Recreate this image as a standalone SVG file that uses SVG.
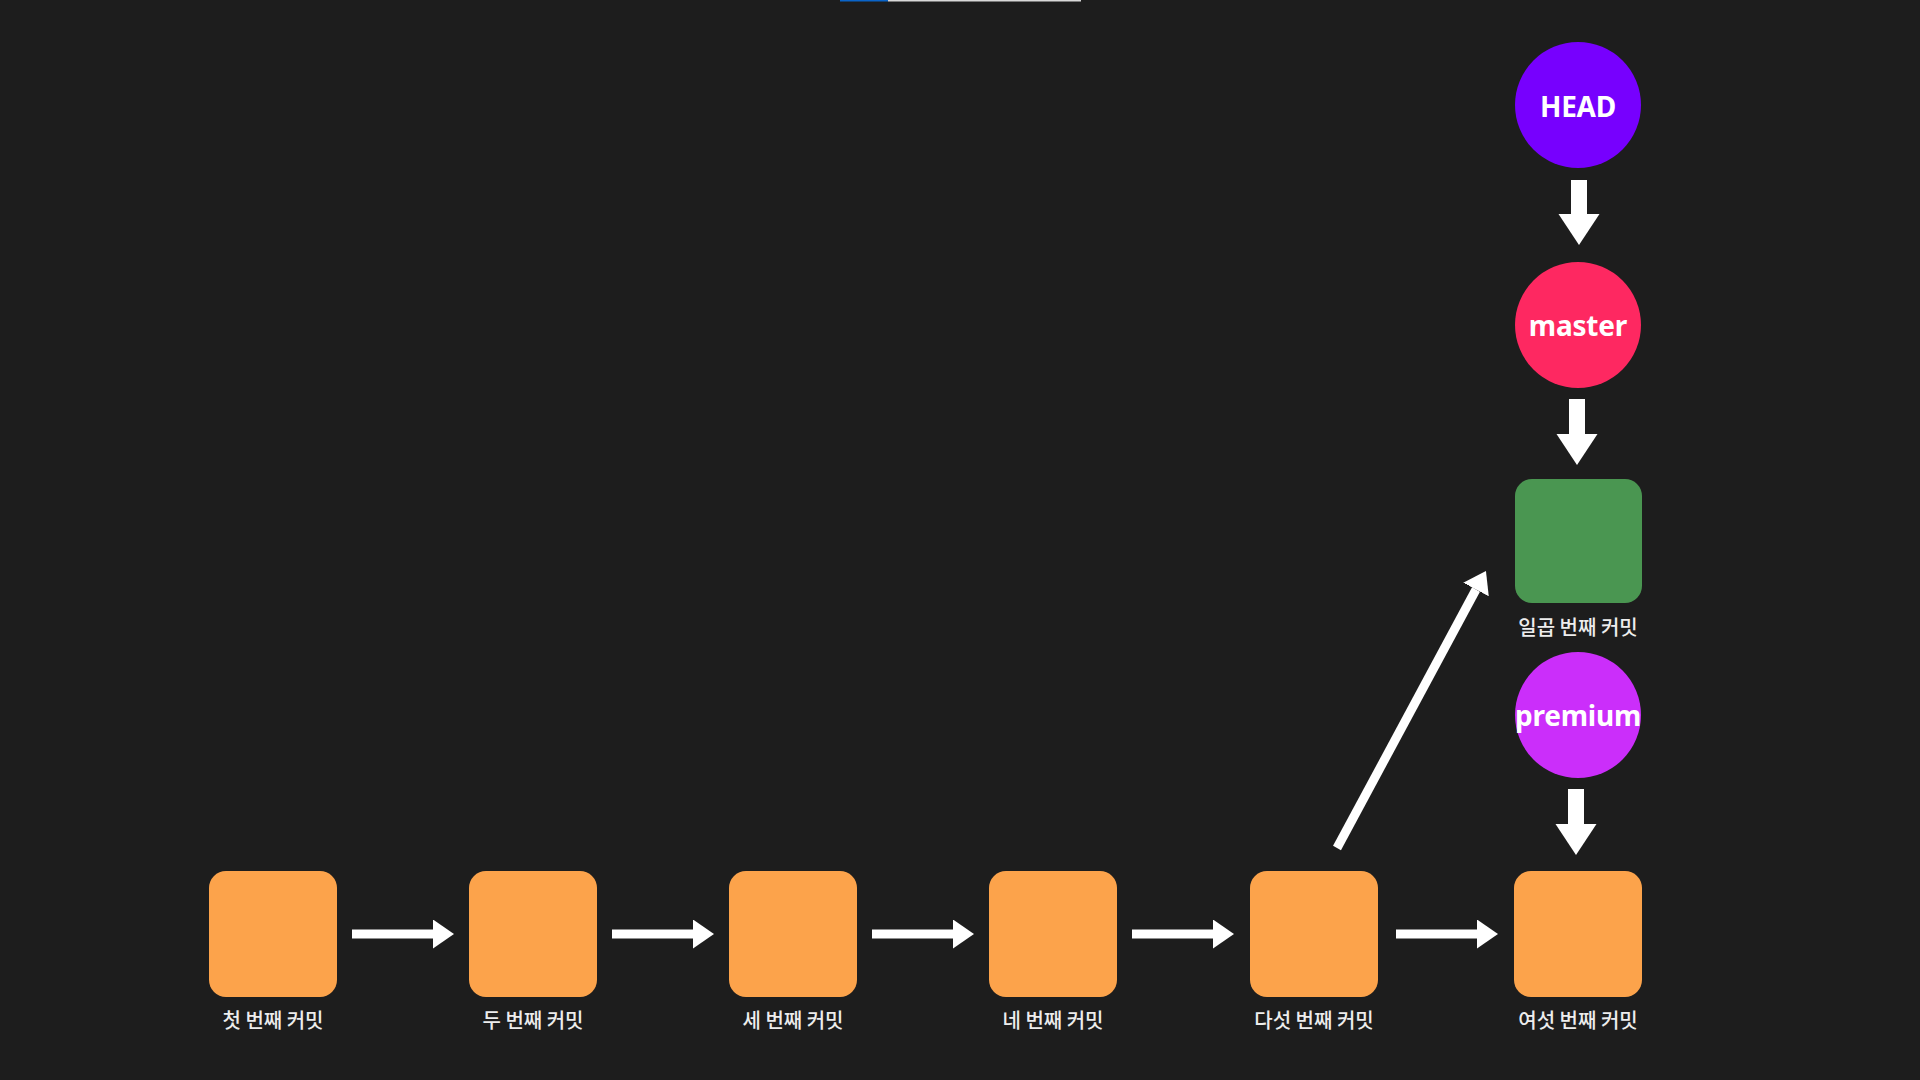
<svg xmlns="http://www.w3.org/2000/svg" width="1920" height="1080" viewBox="0 0 1920 1080">
<style>
.commit{fill:#FCA34B}
.new{fill:#4A9651}
.lbl{font-family:"Noto Sans CJK KR","Noto Sans",sans-serif;font-size:20px;font-weight:500;fill:#EDEDED;text-anchor:middle}
.ref{font-family:"Noto Sans","Open Sans",sans-serif;font-size:28px;font-weight:700;fill:#FFFFFF;text-anchor:middle;letter-spacing:-0.2px}
.thin{stroke:#FFFFFF;stroke-width:9;fill:none;marker-end:url(#headThin)}
.thick{stroke:#FFFFFF;stroke-width:16;fill:none;marker-end:url(#headThick)}
</style>
<defs>
<marker id="headThin" markerUnits="userSpaceOnUse" markerWidth="22" markerHeight="30" refX="0" refY="14.5" orient="auto" viewBox="0 0 22 30">
<path d="M0,0 L21,14.5 L0,29 Z" fill="#FFFFFF"/>
</marker>
<marker id="headThick" markerUnits="userSpaceOnUse" markerWidth="32" markerHeight="42" refX="0" refY="20.5" orient="auto" viewBox="0 0 32 42">
<path d="M0,0 L31,20.5 L0,41 Z" fill="#FFFFFF"/>
</marker>
</defs>
<rect x="0" y="0" width="1920" height="1080" fill="#1D1D1D"/>
<rect x="840" y="0" width="48" height="1.5" fill="#0A64C8"/>
<rect x="888" y="0" width="193" height="1.5" fill="#D8D8D8"/>

<g id="connectors">
<line class="thin" x1="352" y1="934" x2="433" y2="934"/>
<line class="thin" x1="612" y1="934" x2="693" y2="934"/>
<line class="thin" x1="872" y1="934" x2="953" y2="934"/>
<line class="thin" x1="1132" y1="934" x2="1213" y2="934"/>
<line class="thin" x1="1396" y1="934" x2="1477" y2="934"/>
<line class="thin" x1="1337" y1="848" x2="1476" y2="589.5"/>
<line class="thick" x1="1579" y1="180" x2="1579" y2="214"/>
<line class="thick" x1="1577" y1="399" x2="1577" y2="434"/>
<line class="thick" x1="1576" y1="789" x2="1576" y2="824"/>
</g>

<g id="commit1"><rect class="commit" x="209" y="871" width="128" height="126" rx="17"/><text class="lbl" x="273" y="1028">첫 번째 커밋</text></g>
<g id="commit2"><rect class="commit" x="469" y="871" width="128" height="126" rx="17"/><text class="lbl" x="533" y="1028">두 번째 커밋</text></g>
<g id="commit3"><rect class="commit" x="729" y="871" width="128" height="126" rx="17"/><text class="lbl" x="793" y="1028">세 번째 커밋</text></g>
<g id="commit4"><rect class="commit" x="989" y="871" width="128" height="126" rx="17"/><text class="lbl" x="1053" y="1028">네 번째 커밋</text></g>
<g id="commit5"><rect class="commit" x="1250" y="871" width="128" height="126" rx="17"/><text class="lbl" x="1314" y="1028">다섯 번째 커밋</text></g>
<g id="commit6"><rect class="commit" x="1514" y="871" width="128" height="126" rx="17"/><text class="lbl" x="1578" y="1028">여섯 번째 커밋</text></g>
<g id="commit7"><rect class="new" x="1515" y="479" width="127" height="124" rx="17"/><text class="lbl" x="1578" y="635">일곱 번째 커밋</text></g>

<g id="head"><circle cx="1578" cy="105" r="63" fill="#7700FE"/><text class="ref" x="1578" y="117">HEAD</text></g>
<g id="master"><circle cx="1578" cy="325" r="63" fill="#FE2861"/><text class="ref" x="1578" y="336">master</text></g>
<g id="premium"><circle cx="1578" cy="715" r="63" fill="#CB2EFA"/><text class="ref" x="1578" y="726">premium</text></g>
</svg>
